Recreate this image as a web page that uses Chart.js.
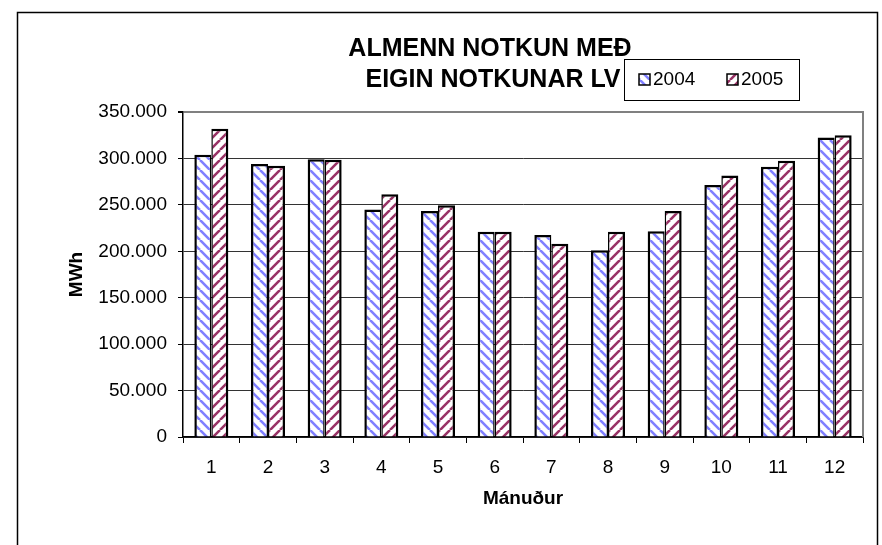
<!DOCTYPE html>
<html>
<head>
<meta charset="utf-8">
<script src="https://cdn.jsdelivr.net/npm/chart.js@4.4.1/dist/chart.umd.min.js"></script>
<style>
  html, body { margin: 0; padding: 0; background: #fff; }
  #wrap { width: 882px; height: 545px; position: relative; }
</style>
</head>
<body>
<div id="wrap"><canvas id="myChart"></canvas></div>
<script>
var months = ["1", "2", "3", "4", "5", "6", "7", "8", "9", "10", "11", "12"];
var series2004 = [304000, 294000, 299000, 245000, 243500, 221000, 217500, 201000, 221500, 271500, 291000, 322500];
var series2005 = [332000, 292000, 298500, 261500, 249500, 221000, 208000, 221000, 243500, 281500, 297500, 325000];
var yTicks = [0, 50000, 100000, 150000, 200000, 250000, 300000, 350000];
var titleLines = ["ALMENN NOTKUN MEÐ", "EIGIN NOTKUNAR LV"];

var FONT = "Arial, 'Liberation Sans', sans-serif";
var ctx = document.getElementById("myChart").getContext("2d");

// diagonal hatch fill like the old Excel patterns
function hatch(color, back) {
  var size = 10;
  var c = document.createElement("canvas");
  c.width = size; c.height = size;
  var g = c.getContext("2d");
  g.fillStyle = "#fff";
  g.fillRect(0, 0, size, size);
  g.strokeStyle = color;
  g.lineWidth = 2.6;
  g.beginPath();
  for (var k = -size; k <= size; k += size) {
    if (back) { g.moveTo(k, 0); g.lineTo(k + size, size); }
    else { g.moveTo(k, size); g.lineTo(k + size, 0); }
  }
  g.stroke();
  return ctx.createPattern(c, "repeat");
}

var fill2004 = hatch("#8080ff", true);
var fill2005 = hatch("#993366", false);

function dots(v) {
  return String(v).replace(/\B(?=(\d{3})+(?!\d))/g, ".");
}

var frame = {
  id: "frame",
  beforeDraw: function (chart) {
    var c = chart.ctx;
    c.save();
    c.fillStyle = "#fff";
    c.fillRect(0, 0, chart.width, chart.height);
    c.strokeStyle = "#000";
    c.lineWidth = 1.5;
    c.strokeRect(17.5, 12.5, 860, 600);
    c.restore();
  },
  afterDraw: function (chart) {
    var c = chart.ctx;
    var a = chart.chartArea;
    c.save();
    // grey right edge of the plot area
    c.strokeStyle = "#808080";
    c.lineWidth = 2;
    c.beginPath();
    c.moveTo(a.right, a.top - 1);
    c.lineTo(a.right, a.bottom);
    c.stroke();

    // title
    c.fillStyle = "#000";
    c.font = "bold 25px " + FONT;
    c.textAlign = "center";
    c.textBaseline = "alphabetic";
    c.fillText(titleLines[0], 490, 56);
    c.fillText(titleLines[1], 493, 87);

    // legend box
    c.strokeStyle = "#000";
    c.lineWidth = 1;
    c.fillStyle = "#fff";
    c.fillRect(624.5, 59.5, 175, 41);
    c.strokeRect(624.5, 59.5, 175, 41);
    var items = chart.data.datasets;
    var xs = [639, 727];
    c.font = "19px " + FONT;
    c.textAlign = "left";
    c.textBaseline = "middle";
    items.forEach(function (ds, i) {
      c.fillStyle = ds.backgroundColor;
      c.fillRect(xs[i], 74, 11, 11);
      c.strokeStyle = "#000";
      c.lineWidth = 1.5;
      c.strokeRect(xs[i], 74, 11, 11);
      c.fillStyle = "#000";
      c.fillText(ds.label, xs[i] + 14, 80);
    });
    c.restore();
  }
};

var chart = new Chart(ctx, {
  type: "bar",
  data: {
    labels: months,
    datasets: [
      {
        label: "2004",
        data: series2004,
        backgroundColor: fill2004,
        borderColor: "#000",
        borderWidth: { top: 2.5, left: 2.5, right: 1.5, bottom: 0 }
      },
      {
        label: "2005",
        data: series2005,
        backgroundColor: fill2005,
        borderColor: "#000",
        borderWidth: { top: 2.5, left: 1.5, right: 2.5, bottom: 0 }
      }
    ]
  },
  options: {
    responsive: true,
    maintainAspectRatio: false,
    animation: false,
    devicePixelRatio: 1,
    layout: { padding: { top: 112, right: 19, left: 0, bottom: 0 } },
    datasets: { bar: { barPercentage: 1, categoryPercentage: 0.6 } },
    plugins: {
      legend: { display: false },
      title: { display: false },
      tooltip: { enabled: false }
    },
    scales: {
      x: {
        afterFit: function (scale) { scale.height = 108; },
        grid: {
          offset: true,
          drawOnChartArea: false,
          tickLength: 6,
          color: "#000"
        },
        border: { color: "#000", width: 1.5 },
        ticks: { color: "#000", padding: 13, font: { family: FONT, size: 19 } },
        title: {
          display: true,
          text: "Mánuður",
          color: "#000",
          font: { family: FONT, size: 19, weight: "bold" },
          padding: { top: 0, bottom: 35 }
        }
      },
      y: {
        min: 0,
        max: 350000,
        afterFit: function (scale) { scale.width = 183; },
        afterBuildTicks: function (scale) {
          scale.ticks = yTicks.map(function (v) { return { value: v }; });
        },
        grid: {
          color: function (c) { return c.tick && c.tick.value === 350000 ? "#808080" : "#333"; },
          lineWidth: function (c) { return c.tick && c.tick.value === 350000 ? 2 : 1; },
          tickColor: "#000",
          tickLength: 5
        },
        border: { color: "#000", width: 1.5 },
        ticks: {
          color: "#000",
          padding: 11,
          font: { family: FONT, size: 19 },
          callback: function (v) { return dots(v); }
        },
        title: {
          display: true,
          text: "MWh",
          color: "#000",
          font: { family: FONT, size: 19, weight: "bold" },
          padding: { top: 65, bottom: 0 }
        }
      }
    }
  },
  plugins: [frame]
});
</script>
</body>
</html>
